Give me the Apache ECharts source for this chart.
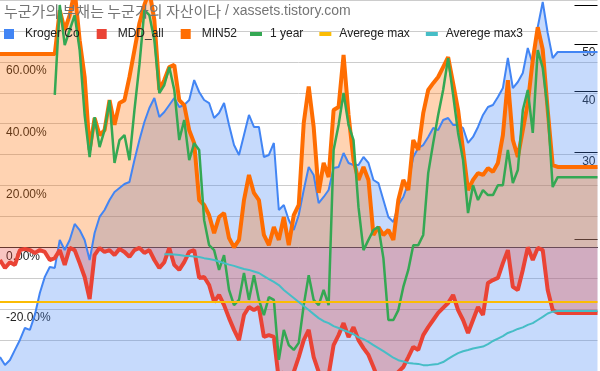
<!DOCTYPE html>
<html>
<head>
<meta charset="utf-8">
<script src="https://cdn.jsdelivr.net/npm/echarts@6/dist/echarts.min.js"></script>
<style>html,body{margin:0;padding:0;background:#fff}#c{width:600px;height:371px}</style>
</head>
<body>
<div id="c"></div>
<script>
// ---- data (121 samples) ----
const titleKorean = '누군가의 부채는 누군가의 자산이다';
const titleLatin = '/ xassets.tistory.com';
const seriesNames = ['Kroger Co', 'MDD_all', 'MIN52', '1 year', 'Averege max', 'Averege max3'];

// Kroger Co share price (right, log axis)
const kroger = [
  11.49, 11.07, 11.33, 11.88, 12.45, 13.17, 13.05, 14.0, 15.52, 16.74,
  17.54, 17.46, 19.91, 18.99, 19.91, 21.46, 20.86, 19.91, 18.12, 20.57,
  22.18, 22.92, 24.02, 24.94, 25.41, 25.89, 26.14, 28.98, 31.83, 34.64,
  36.99, 38.77, 35.47, 36.31, 37.52, 38.77, 37.17, 37.52, 38.41, 42.19,
  39.88, 38.41, 37.87, 35.3, 36.14, 37.87, 34.16, 31.09, 29.67, 32.59,
  35.8, 33.84, 33.84, 29.39, 29.67, 31.39, 22.92, 23.46, 21.87, 20.86,
  22.39, 25.17, 28.04, 27.01, 23.68, 24.36, 25.17, 27.91, 28.04, 29.95,
  28.58, 28.31, 28.31, 29.39, 28.58, 26.38, 26.01, 24.02, 22.18, 21.66,
  23.46, 24.36, 26.01, 29.39, 30.66, 31.09, 32.29, 33.68, 33.36, 34.97,
  35.3, 34.16, 34.16, 33.68, 31.39, 32.29, 33.84, 35.8, 37.17, 37.52,
  38.95, 40.63, 46.78, 40.63, 41.8, 43.6, 49.03, 45.48, 54.11, 60.85,
  52.61, 46.78, 48.12, 48.12, 48.12, 48.12, 48.12, 48.12, 48.12, 48.12,
  48.12
];

// MDD_all (%)
const mddAll = [
  -4.1, -6.7, -4.8, -5.7, -0.9, -0.5, -0.9, -1.8, -0.9, -1.5,
  -4.1, -3.5, -0.9, -5.7, -0.2, -0.9, -5.1, -9.6, -16.7, -2.5,
  -0.2, -1.5, -0.9, -2.5, -0.5, -1.5, -3.1, -0.9, -0.2, -1.8,
  -0.9, -4.1, -6.7, -4.8, -0.2, -5.7, -7.3, -4.8, -1.5, -0.9,
  -9.9, -9.6, -12.2, -17.7, -15.4, -18.7, -22.9, -26.7, -30.0, -21.9,
  -19.3, -20.3, -19.3, -29.0, -28.4, -29.0, -42.9, -40.3, -44.5, -40.3,
  -35.5, -30.0, -26.7, -35.5, -40.3, -42.9, -41.3, -31.6, -28.4, -24.5,
  -29.0, -25.8, -30.0, -32.6, -34.8, -38.7, -42.9, -42.9, -44.5, -42.3,
  -40.3, -38.7, -35.5, -32.2, -33.2, -28.4, -25.8, -23.5, -21.2, -19.6,
  -18.0, -15.4, -20.3, -23.5, -27.7, -23.5, -19.3, -21.9, -11.5, -10.6,
  -9.9, -5.1, -0.9, -12.8, -13.8, -7.3, 0, -4.1, -0.2, -0.9,
  -13.8, -20.3, -21.2, -21.2, -21.2, -21.2, -21.2, -21.2, -21.2, -21.2,
  -21.2
];

// MIN52 (%)
const min52 = [
  62.5, 62.5, 62.5, 62.5, 62.5, 62.5, 62.5, 62.5, 62.5, 62.5,
  62.5, 62.5, 76.7, 70.3, 75.1, 83, 67.0, 55.1, 31.5, 41.8,
  36.3, 37.9, 47.6, 39.6, 46.7, 47.6, 55.1, 63.8, 72.5, 78.4,
  83, 73.5, 50.9, 54.1, 58.3, 59.0, 47.6, 46.0, 37.9, 33.7,
  15.3, 13.7, 10.4, 4.6, 9.8, 11.1, 3.0, 0, 2.4, 15.3,
  23.4, 17.6, 15.3, 4.0, 0.7, 6.6, 2.4, 9.8, 0.7, 10.4,
  13.7, 40.2, 52, 38.9, 17.6, 27.3, 22.7, 44.4, 45.4, 62.2,
  42.8, 28.2, 21.8, 26.0, 21.8, 4.0, 6.6, 4.0, 5.6, 2.4,
  15.3, 21.8, 18.5, 34.7, 31.5, 43.4, 50.9, 53.1, 55.1, 58.3,
  61.5, 53.1, 44.4, 31.5, 18.5, 21.8, 24.0, 23.4, 25.6, 24.4,
  27.3, 36.3, 54.1, 34.7, 29.2, 37.9, 46.7, 60.6, 71.2, 64,
  44.4, 26.6, 26.0, 26.0, 26.0, 26.0, 26.0, 26.0, 26.0, 26.0,
  26.0
];

// 1 year (%)
const oneYear = [
  null, null, null, null, null, null, null, null, null, null,
  null, 49.3, 78.4, 65.4, 70.3, 75.1, 63.8, 42.8, 29.2, 42.1,
  32.4, 37.9, 47.6, 27.3, 34.7, 36.3, 28.2, 44.4, 59.0, 76.7,
  75.1, 67.0, 49.9, 52.5, 58.3, 50.9, 34.7, 41.2, 28.2, 33.7,
  31.5, 8.8, 0.7, -0.9, -7.3, -2.5, -13.8, -18.7, -17.0, -8.3,
  -17.0, -9.0, -17.0, -21.9, -16.1, -17.0, -36.4, -26.7, -31.6, -33.2,
  -30.9, -18.7, -9.0, -17.0, -18.7, -13.8, -18.7, 31.5, 39.6, 49.9,
  39.6, 34.7, 13.0, -0.9, 2.4, 5.6, 6.6, -3.5, -23.5, -23.5,
  -20.3, -12.8, -7.3, 0.7, 0.7, 4.0, 24.0, 33.7, 42.8, 50.9,
  61.2, 49.3, 37.0, 28.2, 11.1, 20.1, 15.3, 18.5, 16.9, 16.9,
  20.1, 20.1, 31.5, 20.8, 25.0, 44.4, 50.9, 37.0, 63.8, 58,
  44.4, 19.5, 22.7, 22.7, 22.7, 22.7, 22.7, 22.7, 22.7, 22.7,
  22.7
];

// Averege max (%), a constant level
const averegeMaxLevel = -17.7;

// Averege max3 (%)
const averegeMax3 = [
  null, null, null, null, null, null, null, null, null, null,
  null, null, null, null, null, null, null, null, null, null,
  null, null, null, null, null, null, null, null, null, null,
  null, null, null, -2.2, -2.2, -2.3, -2.5, -2.7, -2.8, -3.0,
  -3.1, -3.5, -3.8, -4.1, -4.6, -5.1, -5.6, -6.0, -6.5, -7.0,
  -7.3, -7.8, -8.3, -9.3, -10.3, -11.2, -12.2, -13.8, -15.1, -16.4,
  -17.7, -19.0, -20.3, -21.6, -22.9, -23.9, -24.5, -25.5, -26.1, -26.8,
  -27.4, -28.1, -29.1, -29.7, -30.6, -31.6, -32.6, -33.6, -34.6, -35.7,
  -36.5, -36.9, -37.4, -37.6, -37.7, -38.1, -38.1, -37.9, -37.7, -37.1,
  -36.1, -35.1, -34.2, -33.6, -33.2, -32.7, -32.4, -32.1, -31.3, -30.3,
  -29.5, -28.7, -27.7, -27.1, -26.4, -25.9, -25.1, -24.5, -23.5, -22.5,
  -21.4, -20.8, -20.6, -20.6, -20.6, -20.6, -20.6, -20.6, -20.6, -20.6,
  -20.6
];

// axis ticks
const leftLabelTicks = [-20, 0, 20, 40, 60];
const rightTickValues = [20, 30, 40, 50, 60];
const rightLabelTicks = [30, 40, 50];

const categories = kroger.map((_, i) => i);
const averegeMax = categories.map(() => averegeMaxLevel);

// ---- chart ----
const FONT = "'Liberation Sans', Arial, 'Noto Sans CJK KR', sans-serif";
const KFONT = "'Noto Sans CJK KR', sans-serif";
const chart = echarts.init(document.getElementById('c'), null, {renderer: 'canvas'});
const haloLabel = {
  inside: true, fontSize: 12, fontFamily: FONT, color: '#222',
  textBorderColor: '#fff', textBorderWidth: 3, verticalAlign: 'top'
};
chart.setOption({
  animation: false,
  backgroundColor: '#fff',
  title: {
    text: '{k|' + titleKorean + '} {l|' + titleLatin + '}', left: 4, top: 4, padding: 0,
    textStyle: {
      fontSize: 14, fontWeight: 'normal', color: '#757575', fontFamily: FONT,
      rich: {
        k: {fontSize: 15, color: '#757575', fontFamily: KFONT},
        l: {fontSize: 14, color: '#757575', fontFamily: FONT}
      }
    }
  },
  legend: [
    {
      data: seriesNames.slice(0, 3), left: 4, top: 28, padding: 0,
      icon: 'rect', itemWidth: 10, itemHeight: 10, itemGap: 17,
      textStyle: {fontSize: 12, color: '#222', fontFamily: FONT, padding: [0, 0, 0, 6]}
    },
    {
      data: seriesNames.slice(3), left: 250, top: 28, padding: 0,
      icon: 'rect', itemWidth: 12, itemHeight: 4, itemGap: 16,
      textStyle: {fontSize: 12, color: '#222', fontFamily: FONT, padding: [0, 0, 0, 3]}
    }
  ],
  grid: {left: 0, right: 0, top: 0, bottom: 0, containLabel: false},
  xAxis: {
    type: 'category', data: categories, boundaryGap: false,
    axisLine: {show: true, onZero: true, onZeroAxisIndex: 0, lineStyle: {color: '#333', width: 1}},
    axisTick: {show: false}, axisLabel: {show: false}, splitLine: {show: false}
  },
  yAxis: [
    {
      type: 'value', min: -40, max: 80, interval: 10, position: 'left',
      axisLine: {show: false}, axisTick: {show: false},
      splitLine: {show: true, lineStyle: {color: '#cccccc', width: 1}},
      axisLabel: Object.assign({}, haloLabel, {
        margin: 6, padding: [3, 0, 0, 0], customValues: leftLabelTicks,
        formatter: v => v.toFixed(2) + '%'
      })
    },
    {
      type: 'log', logBase: 10, min: 10.76, max: 61.43, position: 'right',
      axisLine: {show: false}, splitLine: {show: false},
      axisTick: {show: true, inside: true, length: 23, customValues: rightTickValues,
                 lineStyle: {color: '#000', width: 1}},
      axisLabel: Object.assign({}, haloLabel, {
        margin: 2, padding: [3, 0, 0, 0], customValues: rightLabelTicks,
        formatter: v => String(Math.round(v))
      })
    }
  ],
  series: [
    {
      name: 'Kroger Co', type: 'line', yAxisIndex: 1, data: kroger,
      showSymbol: false, color: '#4285F4',
      lineStyle: {width: 2, color: '#4285F4'},
      areaStyle: {color: '#4285F4', opacity: 0.3, origin: 'start'}
    },
    {
      name: 'MDD_all', type: 'line', yAxisIndex: 0, data: mddAll,
      showSymbol: false, color: '#EA4335',
      lineStyle: {width: 4, color: '#EA4335'},
      areaStyle: {color: '#EA4335', opacity: 0.3}
    },
    {
      name: 'MIN52', type: 'line', yAxisIndex: 0, data: min52,
      showSymbol: false, color: '#FF6D01',
      lineStyle: {width: 4, color: '#FF6D01'},
      areaStyle: {color: '#FF6D01', opacity: 0.3}
    },
    {
      name: '1 year', type: 'line', yAxisIndex: 0, data: oneYear,
      showSymbol: false, color: '#34A853',
      lineStyle: {width: 2.5, color: '#34A853'}
    },
    {
      name: 'Averege max', type: 'line', yAxisIndex: 0, data: averegeMax,
      showSymbol: false, color: '#FBBC04',
      lineStyle: {width: 2, color: '#FBBC04'}
    },
    {
      name: 'Averege max3', type: 'line', yAxisIndex: 0, data: averegeMax3,
      showSymbol: false, color: '#46BDC6',
      lineStyle: {width: 2, color: '#46BDC6'}
    }
  ]
});
</script>
</body>
</html>
